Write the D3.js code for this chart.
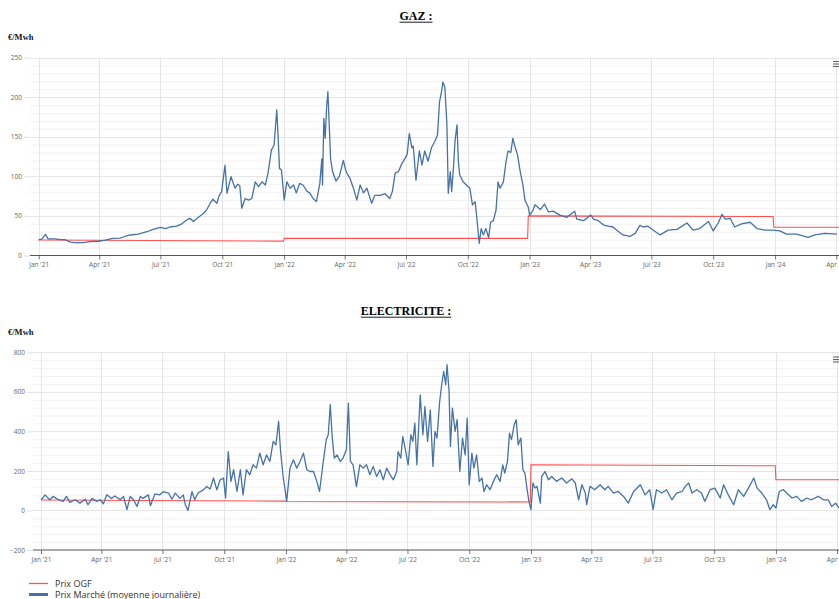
<!DOCTYPE html>
<html><head><meta charset="utf-8">
<script src="https://cdn.jsdelivr.net/npm/d3@7/dist/d3.min.js"></script>
<style>body{margin:0;background:#fff;overflow:hidden}svg{display:block}</style>
</head><body>
<svg id="c" width="839" height="599"></svg>
<script>
// ---------- DATA ----------
const startDate = "2021-01-01";
const tickDates = ["2021-01-01","2021-04-01","2021-07-01","2021-10-01","2022-01-01","2022-04-01","2022-07-01","2022-10-01","2023-01-01","2023-04-01","2023-07-01","2023-10-01","2024-01-01","2024-04-01"];
const tickLabels = ["Jan '21","Apr '21","Jul '21","Oct '21","Jan '22","Apr '22","Jul '22","Oct '22","Jan '23","Apr '23","Jul '23","Oct '23","Jan '24","Apr '24"];
const gasTicks = [0,50,100,150,200,250];
const elecTicks = [-200,0,200,400,600,800];
const seriesNames = ["Prix OGF","Prix Marché (moyenne journalière)"];

// Gas market price: day offset from startDate, value €/MWh
const gasDays = [0,5,10,14,24,32,39,47,57,69,76,89,99,110,121,128,136,148,161,170,181,189,195,205,213,220,225,230,237,245,250,255,259,265,268,272,277,280,286,289,292,296,299,302,307,312,317,322,327,332,337,341,346,350,354,356,358,361,365,369,374,379,383,388,393,399,403,408,413,418,421,422,424,426,428,430,432,434,437,442,447,453,457,463,468,473,478,483,488,495,500,508,515,522,526,530,535,540,545,548,551,555,557,561,566,570,574,579,584,589,593,596,599,601,604,607,609,612,614,617,619,622,624,626,631,636,641,645,649,652,655,658,661,665,669,672,676,680,683,686,691,695,698,702,705,708,712,716,720,723,728,730,735,738,746,752,758,765,775,785,797,800,810,821,825,832,840,847,854,861,869,879,887,894,899,906,914,924,936,949,964,973,983,996,1003,1011,1016,1021,1028,1035,1045,1058,1068,1080,1092,1102,1112,1127,1144,1154,1169,1187];
const gasValues = [19.6,21,26.8,21,21,20,20,17,16,16.5,17.5,18,19.5,21.7,22,24,25.9,27,30,33,35.6,34,36,37,40,44.8,47,43,48,53,58,66,71,66,75,80.6,114,78.5,99.5,92,85,90,88,59.6,72,70,72,93,87,93,89,104,133,139.5,183.7,150,110,108,70,93,85,89,79,91,89,81,79,72,68,91,122,89,173,148,186,207,165,122,106,94,100,120,106,97,85,70,89,79,85,66,76,76,78,72,81,104,106,116,123,128,154,136,138,95,132,114,132,119,136,144,152,194,207,219,212,165,78.5,106,81,114,144,165,119,102,93,89,85,64,68,43,15.4,34,26,34,22.5,42,44,57,93,85,93,119,132,130,148,138,127,106,89,70,61,51,57,64,58,65,55,56,51,48,56,46,44,51,46,44,38.5,37,36,31,26,24,28,38,36,37,32,26,32,33,41,32,34,43,31,42,52,46,47,36,40,42,34,32,32,31,27,27,23,26,28,27];

// Gas OGF price (steps)
const ogfGasDates = ["2021-01-01","2021-12-31","2022-01-01","2022-12-29","2022-12-30","2023-12-29","2023-12-30","2024-04-10"];
const ogfGasValues = [19.6,18.2,21.8,21.6,50,49.2,35.6,35.6];

// Electricity market price
const elecDays = [0,3,6,13,18,26,33,38,43,51,58,66,70,76,83,88,93,98,105,110,118,123,128,133,138,143,148,152,160,163,170,177,182,190,195,200,207,212,215,219,225,229,234,242,247,252,257,262,267,272,275,279,283,287,292,297,301,306,311,316,321,326,331,336,341,346,350,354,357,361,364,366,371,376,381,386,391,396,401,406,411,415,420,425,428,431,434,437,441,446,450,455,458,461,465,470,475,480,485,490,495,500,505,510,515,520,525,530,532,536,539,542,547,551,554,557,560,565,569,572,576,580,584,587,590,594,597,600,603,605,608,610,613,617,620,624,628,632,635,638,642,645,649,653,657,660,664,669,674,679,684,688,691,695,698,701,705,708,711,715,718,721,724,727,730,733,736,739,744,746,751,756,761,768,776,783,791,796,801,806,811,813,818,825,833,840,845,853,860,868,875,883,893,900,907,912,917,925,932,940,947,955,960,965,970,977,984,989,997,1004,1012,1017,1024,1032,1039,1047,1054,1062,1067,1074,1081,1086,1091,1095,1100,1106,1111,1119,1126,1133,1141,1148,1158,1166,1173,1178,1184,1189];
const elecValues = [54,64,79,54,71,54,46,71,41,54,37,57,29,61,46,54,34,79,61,73,54,71,4,71,54,20,71,61,79,24,84,79,95,88,57,88,61,79,29,0,95,54,88,104,121,108,164,104,155,164,63,298,147,206,96,206,79,206,181,231,214,290,231,281,248,349,332,450,298,164,96,46,214,256,214,248,290,206,197,197,147,96,231,358,383,535,366,265,281,248,265,307,543,248,231,121,231,214,231,181,223,172,206,155,214,181,155,197,298,265,374,324,231,383,349,442,231,585,383,526,349,509,223,400,366,551,636,703,636,737,602,324,518,400,459,197,366,281,467,130,290,214,281,147,164,96,130,105,147,181,147,231,189,248,391,358,433,459,332,366,206,189,113,46,4,139,113,122,37,172,197,155,172,147,164,139,160,139,54,130,88,29,122,105,130,105,122,88,96,71,37,96,130,79,105,4,105,88,105,54,88,96,122,139,88,105,88,46,105,113,63,130,79,29,105,71,113,164,113,88,54,4,29,12,96,105,88,63,71,46,63,54,71,54,54,20,37,12];

// Electricity OGF price (steps)
const ogfElecDates = ["2021-01-01","2021-12-31","2022-01-01","2022-12-31","2023-01-01","2023-12-31","2024-01-01","2024-04-10"];
const ogfElecValues = [53,47,45,43,231,226,155,155];

// ---------- DRAWING ----------
const parse = d3.utcParse("%Y-%m-%d");
const t0 = parse(startDate);
const svg = d3.select("#c");
const BLUE = "#4572a7", RED = "#ff4f4f";
const FONT = "'Open Sans', sans-serif";

function panel(cfg) {
  const g = svg.append("g");
  const x = d3.scaleUtc().domain([parse(tickDates[0]), parse(tickDates[tickDates.length-1])]).range([cfg.x0, cfg.x1]);
  const y = d3.scaleLinear().domain([cfg.yTicks[0], cfg.yTicks[cfg.yTicks.length-1]]).range([cfg.yBottom, cfg.yTop]);
  const right = 860;
  const clipId = "clip" + cfg.id;
  svg.append("clipPath").attr("id", clipId).append("rect")
    .attr("x", cfg.left).attr("y", cfg.yTop - 2).attr("width", right - cfg.left).attr("height", cfg.yBottom - cfg.yTop + 4);

  // title
  const title = g.append("text").attr("x", cfg.titleX).attr("y", cfg.titleY)
    .attr("text-anchor", "middle").attr("font-family", "'Liberation Serif', 'Times New Roman', serif")
    .attr("font-weight", "bold").attr("font-size", 12).attr("fill", "#000").text(cfg.title);
  const w = title.node().getComputedTextLength();
  g.append("line").attr("x1", cfg.titleX - w/2).attr("x2", cfg.titleX + w/2)
    .attr("y1", cfg.titleY + 2.2).attr("y2", cfg.titleY + 2.2).attr("stroke", "#000").attr("stroke-width", 0.9);
  g.append("text").attr("x", 8).attr("y", cfg.unitY).attr("font-family", "'Liberation Serif', 'Times New Roman', serif")
    .attr("font-weight", "bold").attr("font-size", 8.5).attr("fill", "#111").text("€/Mwh");

  // minor horizontal grid
  const lo = cfg.yTicks[0], hi = cfg.yTicks[cfg.yTicks.length-1];
  const minor = d3.range(lo, hi + 0.001, cfg.minorStep).filter(v => !cfg.yTicks.includes(v));
  g.append("g").selectAll("line").data(minor).join("line")
    .attr("x1", cfg.left).attr("x2", right).attr("y1", d => y(d) + 0.5).attr("y2", d => y(d) + 0.5)
    .attr("stroke", "#f2f2f2").attr("stroke-width", 1);
  // major horizontal grid
  g.append("g").selectAll("line").data(cfg.yTicks.filter(v => v !== cfg.axisAt)).join("line")
    .attr("x1", cfg.left).attr("x2", right).attr("y1", d => Math.round(y(d)) + 0.5).attr("y2", d => Math.round(y(d)) + 0.5)
    .attr("stroke", "#e6e6e6").attr("stroke-width", 1);
  // vertical grid
  g.append("g").selectAll("line").data(tickDates.map(parse)).join("line")
    .attr("x1", d => Math.round(x(d)) + 0.5).attr("x2", d => Math.round(x(d)) + 0.5)
    .attr("y1", cfg.yTop).attr("y2", cfg.yBottom)
    .attr("stroke", "#e6e6e6").attr("stroke-width", 1);

  // y axis
  const ya = g.append("g").attr("transform", `translate(${cfg.left},0)`)
    .call(d3.axisLeft(y).tickValues(cfg.yTicks).tickSize(6).tickPadding(2).tickFormat(d3.format("d")));
  ya.select(".domain").remove();
  ya.selectAll(".tick line").attr("stroke", "#e0e0e0");
  ya.selectAll(".tick text").attr("font-family", FONT).attr("font-size", 6.5).attr("fill", "#666");

  // x axis
  const xa = g.append("g").attr("transform", `translate(0,${cfg.yBottom})`)
    .call(d3.axisBottom(x).tickValues(tickDates.map(parse)).tickFormat((d, i) => tickLabels[i]).tickSize(4).tickPadding(3));
  xa.select(".domain").remove();
  xa.selectAll(".tick line").attr("stroke", "#777");
  xa.selectAll(".tick text").attr("font-family", FONT).attr("font-size", 6.5).attr("fill", "#666");
  g.append("line").attr("x1", cfg.left).attr("x2", right).attr("y1", cfg.yBottom).attr("y2", cfg.yBottom)
    .attr("stroke", "#555").attr("stroke-width", 1.2);

  // series
  const plot = g.append("g").attr("clip-path", `url(#${clipId})`);
  const line = d3.line().x(d => x(d[0])).y(d => y(d[1]));
  const ogf = d3.zip(cfg.ogfDates.map(parse), cfg.ogfValues);
  plot.append("path").datum(ogf).attr("d", line).attr("fill", "none")
    .attr("stroke", RED).attr("stroke-width", 1.1);
  const mkt = d3.zip(cfg.days.map(dd => d3.utcDay.offset(t0, dd)), cfg.values);
  plot.append("path").datum(mkt).attr("d", line).attr("fill", "none")
    .attr("stroke", BLUE).attr("stroke-width", 1.3).attr("stroke-linejoin", "round");

  // menu icon
  g.append("g").selectAll("line").data([0, 2.5, 5]).join("line")
    .attr("x1", 833).attr("x2", 840).attr("y1", d => cfg.menuY + d).attr("y2", d => cfg.menuY + d)
    .attr("stroke", "#666").attr("stroke-width", 1.1);
}

panel({id: "gas", title: "GAZ :", titleX: 416, titleY: 20, unitY: 40,
  left: 30, x0: 38.7, x1: 836.3, yTop: 57.5, yBottom: 255.5, yTicks: gasTicks, minorStep: 10, axisAt: 0,
  days: gasDays, values: gasValues, ogfDates: ogfGasDates, ogfValues: ogfGasValues, menuY: 61.5});

panel({id: "elec", title: "ELECTRICITE :", titleX: 406, titleY: 315, unitY: 335,
  left: 33, x0: 41, x1: 837, yTop: 352.3, yBottom: 550, yTicks: elecTicks, minorStep: 40, axisAt: -200,
  days: elecDays, values: elecValues, ogfDates: ogfElecDates, ogfValues: ogfElecValues, menuY: 357});

// legend
const lg = svg.append("g");
lg.append("line").attr("x1", 29).attr("x2", 48).attr("y1", 583.5).attr("y2", 583.5).attr("stroke", RED).attr("stroke-width", 1.3);
lg.append("text").attr("x", 55).attr("y", 586.8).attr("font-family", FONT).attr("font-size", 9).attr("fill", "#333").text(seriesNames[0]);
lg.append("line").attr("x1", 29).attr("x2", 48).attr("y1", 594.5).attr("y2", 594.5).attr("stroke", BLUE).attr("stroke-width", 3);
lg.append("text").attr("x", 55).attr("y", 597.8).attr("font-family", FONT).attr("font-size", 9).attr("fill", "#333").text(seriesNames[1]);
</script>
</body></html>
